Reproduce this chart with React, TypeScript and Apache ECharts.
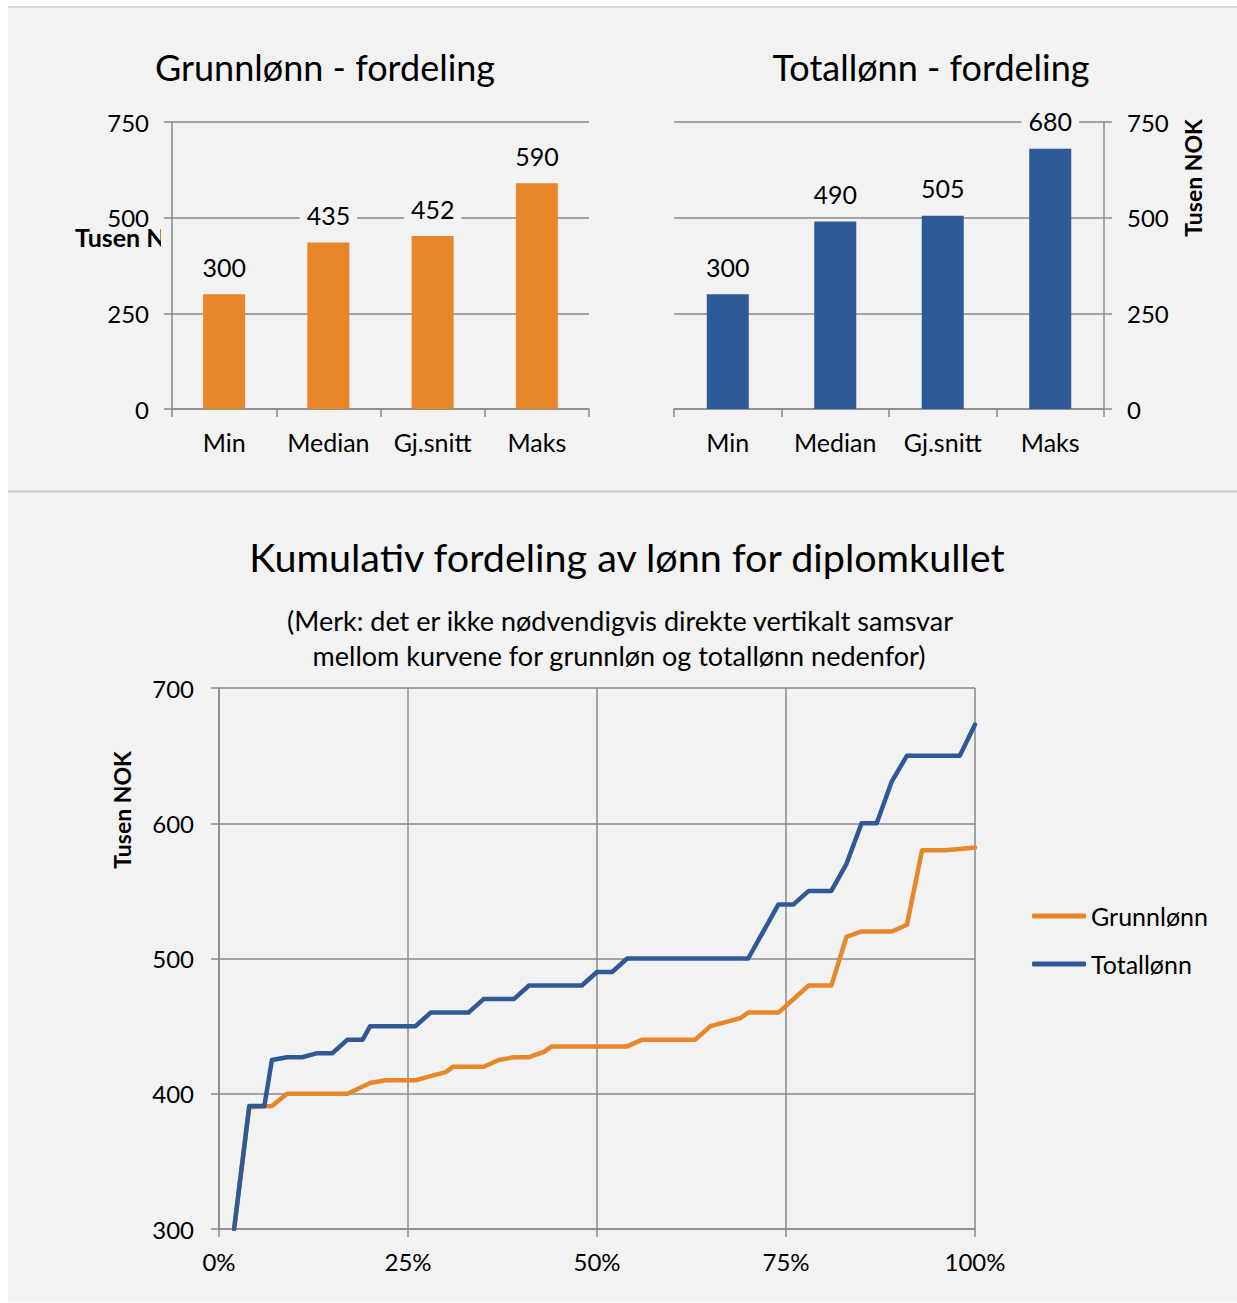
import React, { useEffect, useRef } from 'react';
import * as echarts from 'echarts';

// ---- data ----
const barCategories = ['Min', 'Median', 'Gj.snitt', 'Maks'];
const grunnlonnBars = [300, 435, 452, 590];
const totallonnBars = [300, 490, 505, 680];

// cumulative distribution: [percent of class, thousand NOK]
const grunnlonnCurve: [number, number][] = [
  [2, 300], [4, 390], [7, 391], [9, 400], [17, 400], [20, 408], [22, 410], [26, 410],
  [28, 413], [30, 416], [31, 420], [35, 420], [37, 425], [39, 427], [41, 427], [43, 431],
  [44, 435], [54, 435], [56, 440], [63, 440], [65, 450], [67, 453], [69, 456], [70, 460],
  [74, 460], [78, 480], [81, 480], [83, 516], [85, 520], [89, 520], [91, 525], [93, 580],
  [96, 580], [98, 581], [100, 582],
];
const totallonnCurve: [number, number][] = [
  [2, 300], [4, 391], [6, 391], [7, 425], [9, 427], [11, 427], [13, 430], [15, 430],
  [17, 440], [19, 440], [20, 450], [26, 450], [28, 460], [33, 460], [35, 470], [39, 470],
  [41, 480], [48, 480], [50, 490], [52, 490], [54, 500], [70, 500], [74, 540], [76, 540],
  [78, 550], [81, 550], [83, 570], [85, 600], [87, 600], [89, 631], [91, 650], [98, 650],
  [100, 673],
];

const titles = {
  left: 'Grunnlønn - fordeling',
  right: 'Totallønn - fordeling',
  bottom: 'Kumulativ fordeling av lønn for diplomkullet',
  note1: '(Merk: det er ikke nødvendigvis direkte vertikalt samsvar',
  note2: 'mellom kurvene for grunnløn og totallønn nedenfor)',
  unit: 'Tusen NOK',
};

const FONT = 'Lato, "Open Sans", sans-serif';
const ORANGE = '#E8862A';
const BLUE = '#2F5996';
const GRID = '#8A8A8A';
const BG = '#F2F2F2';
const TXT = '#000000';
const NUM = 24;
const CAT = 25;

const axisLine = { show: true, lineStyle: { color: GRID, width: 1.5 } };
const splitLine = { show: true, lineStyle: { color: GRID, width: 1.5 } };

function barX(gridIndex: number) {
  return {
    type: 'category',
    gridIndex,
    data: barCategories,
    axisLine,
    axisTick: { show: true, length: 8, alignWithLabel: false, interval: 0, lineStyle: { color: GRID, width: 1.5 } },
    axisLabel: { interval: 0, margin: 20, fontFamily: FONT, fontSize: CAT, color: TXT, hideOverlap: false },
    splitLine: { show: false },
  };
}
function barY(gridIndex: number, position: 'left' | 'right') {
  return {
    type: 'value',
    gridIndex,
    position,
    min: 0,
    max: 750,
    interval: 250,
    axisLine,
    axisTick: { show: true, length: 8, lineStyle: { color: GRID, width: 1.5 } },
    axisLabel: { margin: 23, fontFamily: FONT, fontSize: NUM, color: TXT },
    splitLine,
  };
}
function barSeries(data: number[], color: string, idx: number) {
  return {
    type: 'bar',
    xAxisIndex: idx,
    yAxisIndex: idx,
    data,
    barWidth: 42,
    itemStyle: { color },
    label: {
      show: true,
      position: 'top',
      distance: 15,
      fontFamily: FONT,
      fontSize: CAT,
      color: TXT,
      backgroundColor: BG,
      padding: [0, 7],
    },
  };
}

export default function App() {
  const ref = useRef<HTMLDivElement>(null);
  useEffect(() => {
    if (!ref.current) return;
    const chart = echarts.init(ref.current, undefined, { renderer: 'svg' });
    const option: any = {
      animation: false,
      backgroundColor: '#FFFFFF',
      grid: [
        { left: 172, top: 122, width: 417, height: 287 },
        { left: 674, top: 122, width: 430, height: 287 },
        { left: 219, top: 688, width: 756, height: 541 },
      ],
      xAxis: [
        barX(0),
        barX(1),
        {
          type: 'value',
          gridIndex: 2,
          min: 0,
          max: 100,
          interval: 25,
          axisLine,
          axisTick: { show: true, length: 8, lineStyle: { color: GRID, width: 1.5 } },
          axisLabel: { margin: 20, fontFamily: FONT, fontSize: NUM, color: TXT, formatter: '{value}%' },
          splitLine,
        },
      ],
      yAxis: [
        barY(0, 'left'),
        barY(1, 'right'),
        {
          type: 'value',
          gridIndex: 2,
          min: 300,
          max: 700,
          interval: 100,
          axisLine,
          axisTick: { show: true, length: 8, lineStyle: { color: GRID, width: 1.5 } },
          axisLabel: { margin: 25, fontFamily: FONT, fontSize: NUM, color: TXT },
          splitLine,
        },
      ],
      legend: {
        data: ['Grunnlønn', 'Totallønn'],
        orient: 'vertical',
        left: 1032,
        top: 903,
        padding: 0,
        itemWidth: 54,
        itemHeight: 5,
        icon: 'roundRect',
        itemGap: 22,
        textStyle: { fontFamily: FONT, fontSize: CAT, color: TXT, lineHeight: 26 },
      },
      series: [
        barSeries(grunnlonnBars, ORANGE, 0),
        barSeries(totallonnBars, BLUE, 1),
        {
          name: 'Grunnlønn',
          type: 'line',
          xAxisIndex: 2,
          yAxisIndex: 2,
          data: grunnlonnCurve,
          symbol: 'none',
          color: ORANGE,
          lineStyle: { width: 4.5, color: ORANGE, join: 'round', cap: 'round' },
        },
        {
          name: 'Totallønn',
          type: 'line',
          xAxisIndex: 2,
          yAxisIndex: 2,
          data: totallonnCurve,
          symbol: 'none',
          color: BLUE,
          lineStyle: { width: 4.5, color: BLUE, join: 'round', cap: 'round' },
        },
      ],
      graphic: [
        { type: 'rect', z: -20, silent: true, shape: { x: 8, y: 8, width: 1229, height: 1294 }, style: { fill: BG } },
        { type: 'rect', z: -19, silent: true, shape: { x: 8, y: 6, width: 1229, height: 2 }, style: { fill: '#D5D8DB' } },
        { type: 'rect', z: -19, silent: true, shape: { x: 8, y: 490.5, width: 1229, height: 2 }, style: { fill: '#C8CBCE' } },
        {
          type: 'text', z: -15, silent: true, x: 75, y: 237,
          style: { text: titles.unit, font: `bold 25px ${FONT}`, fill: TXT, align: 'left', verticalAlign: 'middle' },
        },
        { type: 'rect', z: -12, silent: true, shape: { x: 161, y: 222, width: 428, height: 30 }, style: { fill: BG } },
        {
          type: 'text', x: 325, y: 67,
          style: { text: titles.left, font: `36px ${FONT}`, fill: TXT, align: 'center', verticalAlign: 'middle' },
        },
        {
          type: 'text', x: 931, y: 67,
          style: { text: titles.right, font: `36px ${FONT}`, fill: TXT, align: 'center', verticalAlign: 'middle' },
        },
        {
          type: 'text', x: 1193, y: 178, rotation: Math.PI / 2,
          style: { text: titles.unit, font: `bold 23px ${FONT}`, fill: TXT, align: 'center', verticalAlign: 'middle' },
        },
        {
          type: 'text', x: 627, y: 556,
          style: { text: titles.bottom, font: `39.5px ${FONT}`, fill: TXT, align: 'center', verticalAlign: 'middle' },
        },
        {
          type: 'text', x: 620, y: 620,
          style: { text: titles.note1, font: `27px ${FONT}`, fill: TXT, align: 'center', verticalAlign: 'middle' },
        },
        {
          type: 'text', x: 619, y: 655,
          style: { text: titles.note2, font: `27px ${FONT}`, fill: TXT, align: 'center', verticalAlign: 'middle' },
        },
        {
          type: 'text', x: 122, y: 810, rotation: Math.PI / 2,
          style: { text: titles.unit, font: `bold 23px ${FONT}`, fill: TXT, align: 'center', verticalAlign: 'middle' },
        },
      ],
    };
    chart.setOption(option);
    return () => chart.dispose();
  }, []);
  return (
    <div
      ref={ref}
      style={{ position: 'fixed', left: 0, top: 0, width: 1237, height: 1303 }}
    />
  );
}
